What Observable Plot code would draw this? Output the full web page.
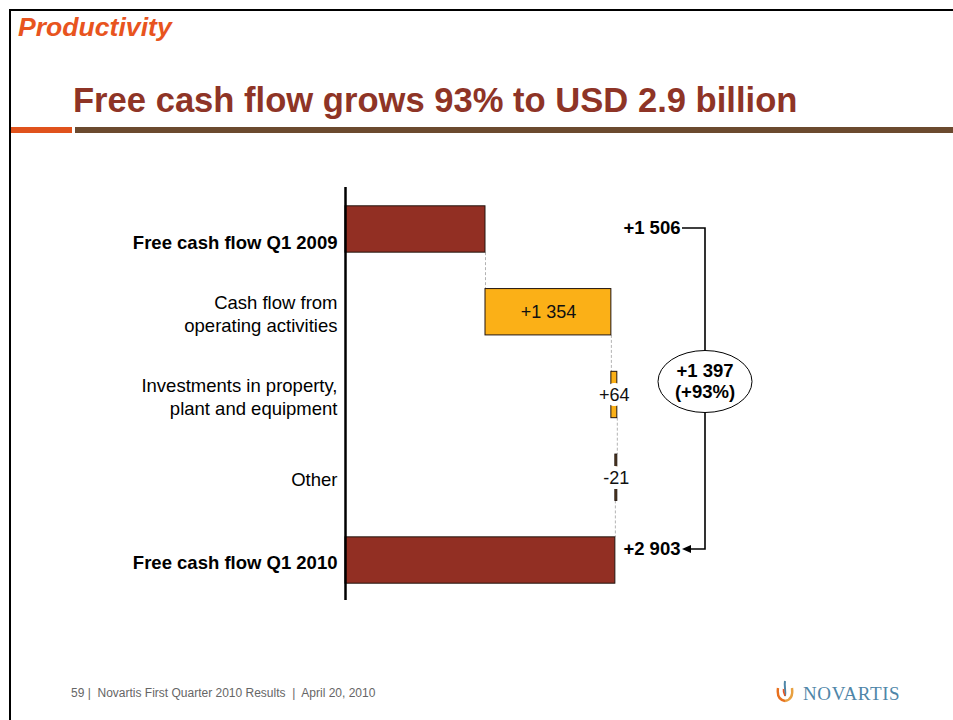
<!DOCTYPE html>
<html><head><meta charset="utf-8">
<script src="https://cdn.jsdelivr.net/npm/d3@7"></script>
<script src="https://cdn.jsdelivr.net/npm/@observablehq/plot@0.6"></script>
<style>
html,body{margin:0;padding:0;background:#fff;}
body{width:953px;height:720px;position:relative;overflow:hidden;font-family:"Liberation Sans",Arial,sans-serif;}
#frameTop{position:absolute;left:9px;top:9px;width:944px;height:2px;background:#000}
#frameLeft{position:absolute;left:9px;top:9px;width:2px;height:711px;background:#000}
#section{position:absolute;left:18px;top:12px;font-size:26.6px;font-weight:bold;font-style:italic;color:#e8541e;line-height:normal;white-space:nowrap}
#title{position:absolute;left:73px;top:80.5px;font-size:34.6px;font-weight:bold;color:#8e3426;white-space:nowrap;line-height:normal}
#ruleA{position:absolute;left:11px;top:127px;width:61px;height:6px;background:#e0521c}
#ruleB{position:absolute;left:75px;top:127px;width:878px;height:6px;background:#6b4a2f}
#chart{position:absolute;left:0;top:180px}
#footer{position:absolute;left:71px;top:686px;font-size:12px;color:#666;white-space:pre;line-height:normal}
#logoText{position:absolute;left:803px;top:683px;font-family:"Liberation Serif","DejaVu Serif",serif;font-size:19px;color:#4f86a8;letter-spacing:0.6px;line-height:normal;white-space:nowrap}
#logoIcon{position:absolute;left:775px;top:680px}
</style></head>
<body>
<div id="frameTop"></div><div id="frameLeft"></div>
<div id="section">Productivity</div>
<div id="title">Free cash flow grows 93% to USD 2.9 billion</div>
<div id="ruleA"></div><div id="ruleB"></div>
<div id="chart"></div>
<div id="footer">59 |  Novartis First Quarter 2010 Results  |  April 20, 2010</div>
<svg id="logoIcon" width="22" height="24" viewBox="0 0 22 24">
  <path d="M3,8 C2,15 4,20 10,21" fill="none" stroke="#e8701e" stroke-width="2.4"/>
  <path d="M10,21 C16,20 18,15 17,8" fill="none" stroke="#e8a040" stroke-width="2.4"/>
  <path d="M10,1 C9,6 11,10 10,16" fill="none" stroke="#4f86a8" stroke-width="2"/>
  <path d="M8.5,9 C8,12 9,14 10,16" fill="none" stroke="#e8541e" stroke-width="1.6"/>
</svg>
<div id="logoText">NOVARTIS</div>
<script>
// ---- data ----
const categories = [
  "Free cash flow Q1 2009",
  "Cash flow from\noperating activities",
  "Investments in property,\nplant and equipment",
  "Other",
  "Free cash flow Q1 2010"
];
const values = [1506, 1354, 64, -21, 2903];
const kinds = ["total", "delta", "delta", "delta", "total"];
const valueLabels = ["+1 506", "+1 354", "+64", "-21", "+2 903"];
const changeLabel = "+1 397";
const changePctLabel = "(+93%)";

// ---- derived table ----
let run = 0;
const rows = categories.map((cat, i) => {
  const v = values[i], k = kinds[i];
  let start, end;
  if (k === "total") { start = 0; end = v; } else { start = run; end = run + v; }
  run = end;
  return {cat, value: v, kind: k, label: valueLabels[i], start, end, mid: (start + end) / 2};
});
const links = rows.slice(0, -1).map((r, i) => ({x: r.end, from: r.cat, to: rows[i + 1].cat}));
const totals = rows.filter(d => d.kind === "total");
const deltas = rows.filter(d => d.kind === "delta");
const fillOf = d => d.kind === "total" ? "#922f23" : (d.value >= 0 ? "#fbb017" : "#5b4121");

const PX = 0.09296;
const Y0 = 7.6, Y1 = 421.4;
const BW = (Y1 - Y0) / 5 * 0.56;
const font = "'Liberation Sans', Arial, sans-serif";

const chart = Plot.plot({
  width: 953, height: 422,
  marginLeft: 345, marginRight: 0, marginTop: 7, marginBottom: 2,
  style: {background: "transparent", fontFamily: font, overflow: "visible", color: "#000"},
  x: {domain: [0, 4000], range: [345, 345 + 4000 * PX], axis: null},
  y: {domain: categories, range: [Y0, Y1], paddingInner: 0.44, paddingOuter: 0.22, round: false, axis: null},
  marks: [
    Plot.ruleX(links, {x: "x", y1: "from", y2: "to", stroke: "#b3b3b3", strokeWidth: 1, strokeDasharray: "3,2", insetTop: BW, insetBottom: BW}),
    Plot.barX(rows, {x1: "start", x2: "end", y: "cat", fill: fillOf, stroke: "#22150f", strokeWidth: 1}),
    Plot.text(deltas.filter(d => Math.abs(d.value) >= 200), {x: "mid", y: "cat", text: "label", fontSize: 18, fill: "#111"}),
    Plot.text(deltas.filter(d => Math.abs(d.value) < 200), {x: "mid", y: "cat", text: "label", fontSize: 18, fill: "#111", stroke: "white", strokeWidth: 10, strokeLinejoin: "round"}),
    Plot.text(deltas, {y: "cat", text: "cat", frameAnchor: "left", dx: -8, dy: 1, textAnchor: "end", fontSize: 18.5, lineHeight: 1.24, fill: "#000"}),
    Plot.text(totals.slice(0, 1), {y: "cat", text: "cat", frameAnchor: "left", dx: -8, dy: 14, textAnchor: "end", fontSize: 18.5, fontWeight: "bold", fill: "#000"}),
    Plot.text(totals.slice(1), {y: "cat", text: "cat", frameAnchor: "left", dx: -8, dy: 3, textAnchor: "end", fontSize: 18.5, fontWeight: "bold", fill: "#000"}),
    Plot.text(totals.slice(0, 1), {y: "cat", text: "label", frameAnchor: "left", dx: 335, dy: -1, textAnchor: "end", fontSize: 18.5, fontWeight: "bold", fill: "#000"}),
    Plot.text(totals.slice(1), {y: "cat", text: "label", frameAnchor: "left", dx: 335, dy: -11, textAnchor: "end", fontSize: 18.5, fontWeight: "bold", fill: "#000"}),
    Plot.ruleX([0], {stroke: "#000", strokeWidth: 2.5})
  ]
});
document.getElementById("chart").appendChild(chart);

// ---- bracket annotation using the plot's y scale ----
const ys = chart.scale("y");
const yC = c => ys.apply(c) + ys.bandwidth / 2;
const yTop = yC(totals[0].cat) - 1;
const yBot = yC(totals[1].cat) - 11;
const bx = 705, lx = 682;
const g = d3.select(chart).append("g").attr("fill", "none");
g.append("path").attr("d", `M${lx},${yTop}H${bx}V${yBot}H${lx + 8}`).attr("stroke", "#000").attr("stroke-width", 1.6);
g.append("path").attr("d", `M${lx},${yBot}l9,-4v8z`).attr("fill", "#000");
const ey = (yTop + yBot) / 2 - 7;
g.append("ellipse").attr("cx", bx).attr("cy", ey).attr("rx", 47).attr("ry", 31).attr("fill", "#fff").attr("stroke", "#000").attr("stroke-width", 1);
g.append("text").attr("x", bx).attr("y", ey - 10.5).attr("dy", "0.35em").attr("text-anchor", "middle").attr("font-size", 18.5).attr("font-weight", "bold").attr("fill", "#000").attr("font-family", font).text(changeLabel);
g.append("text").attr("x", bx).attr("y", ey + 10.5).attr("dy", "0.35em").attr("text-anchor", "middle").attr("font-size", 18.5).attr("font-weight", "bold").attr("fill", "#000").attr("font-family", font).text(changePctLabel);
</script>
</body></html>
